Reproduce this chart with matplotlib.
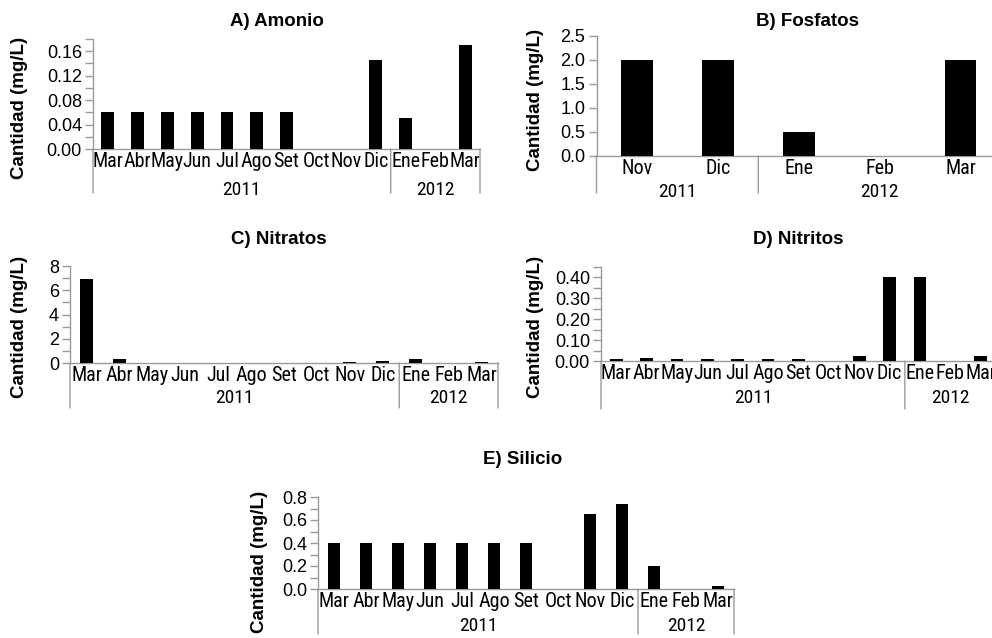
import numpy as np
import matplotlib
matplotlib.use("Agg")
import matplotlib.pyplot as plt
import matplotlib.transforms as mtransforms
from matplotlib import font_manager
from matplotlib.ticker import MultipleLocator, FormatStrFormatter

plt.rcParams["font.family"] = ["Liberation Sans", "DejaVu Sans"]
installed = {f.name for f in font_manager.fontManager.ttflist}
NARROW = [f for f in ["Liberation Sans Narrow", "Arial Narrow", "Roboto Condensed",
                      "PT Sans Narrow", "Archivo Narrow", "Open Sans Condensed"] if f in installed][:1]
NARROW += ["Liberation Sans", "DejaVu Sans"]
GREY = "#9a9a9a"

# data
months_full = ["Mar", "Abr", "May", "Jun", "Jul", "Ago", "Set", "Oct", "Nov", "Dic", "Ene", "Feb", "Mar"]
years_full = ["2011"] * 10 + ["2012"] * 3

amonio = [0.06, 0.06, 0.06, 0.06, 0.06, 0.06, 0.06, 0, 0, 0.145, 0.05, 0, 0.171]

fosfatos_months = ["Nov", "Dic", "Ene", "Feb", "Mar"]
fosfatos_years = ["2011", "2011", "2012", "2012", "2012"]
fosfatos = [2.0, 2.0, 0.5, 0, 2.0]

nitratos = [6.95, 0.35, 0, 0, 0, 0, 0, 0, 0.05, 0.14, 0.3, 0, 0.1]
nitritos = [0.011, 0.016, 0.011, 0.011, 0.011, 0.011, 0.011, 0, 0.024, 0.40, 0.40, 0, 0.024]
silicio = [0.4, 0.4, 0.4, 0.4, 0.4, 0.4, 0.4, 0, 0.655, 0.74, 0.2, 0, 0.025]

W, H = 992, 638
fig = plt.figure(figsize=(W / 100, H / 100), dpi=100)


def px_axes(left, top, right, bottom):
    return fig.add_axes([left / W, 1 - bottom / H, (right - left) / W, (bottom - top) / H])


def panel(box, months, years, values, ymax, major, minor, fmt, width,
          drop, year_off, title, title_xy, ylabel_xy):
    ax = px_axes(*box)
    n = len(values)
    x = np.arange(n)
    ax.bar(x, values, width=width, color="black", zorder=3)
    ax.set_xlim(-0.5, n - 0.5)
    ax.set_ylim(0, ymax)
    ax.yaxis.set_major_locator(MultipleLocator(major))
    if minor:
        ax.yaxis.set_minor_locator(MultipleLocator(minor))
    ax.yaxis.set_major_formatter(FormatStrFormatter(fmt))
    ax.tick_params(axis="y", which="both", length=6, width=1, color=GREY,
                   labelsize=13, pad=2)
    ax.set_xticks(x)
    ax.set_xticklabels(months, fontfamily=NARROW, fontsize=14.5)
    ax.tick_params(axis="x", length=0, pad=2)
    for s in ["top", "right"]:
        ax.spines[s].set_visible(False)
    for s in ["left", "bottom"]:
        ax.spines[s].set_color(GREY)
        ax.spines[s].set_linewidth(1)

    # group separators and year labels below the month names
    blend = mtransforms.blended_transform_factory(ax.transData, ax.transAxes)
    bounds = [0] + [i for i in range(1, n) if years[i] != years[i - 1]] + [n]
    for b in bounds:
        ax.annotate("", xy=(b - 0.5, 0), xycoords=blend, xytext=(0, -drop),
                    textcoords="offset pixels",
                    arrowprops=dict(arrowstyle="-", color=GREY, lw=1,
                                    shrinkA=0, shrinkB=0))
    for a, b in zip(bounds[:-1], bounds[1:]):
        ax.annotate(years[a], xy=((a + b - 1) / 2, 0), xycoords=blend,
                    xytext=(0, -year_off), textcoords="offset pixels",
                    ha="center", va="center", fontfamily=NARROW, fontsize=14)
    fig.text(title_xy[0] / W, 1 - title_xy[1] / H, title, ha="center", va="center",
             fontsize=13.5, fontweight="bold")
    fig.text(ylabel_xy[0] / W, 1 - ylabel_xy[1] / H, "Cantidad (mg/L)", rotation=90,
             ha="center", va="center", fontsize=13.5, fontweight="bold")
    return ax


panel((93, 39, 480, 149), months_full, years_full, amonio, 0.18, 0.04, 0.02, "%.2f", 0.43,
      44, 41, "A) Amonio", (277, 22), (20, 108))
panel((596.5, 36, 1001, 156), fosfatos_months, fosfatos_years, fosfatos, 2.5, 0.5, None, "%.1f", 0.39,
      37, 36, "B) Fosfatos", (808, 22), (535, 100))
panel((70, 266, 498, 363), months_full, years_full, nitratos, 8, 2, 1, "%d", 0.4,
      45, 35, "C) Nitratos", (279, 240), (20, 327))
panel((601, 267, 996, 361), months_full, years_full, nitritos, 0.45, 0.10, 0.05, "%.2f", 0.42,
      48, 37, "D) Nitritos", (798, 240), (535, 327))
panel((318, 497, 734, 589), months_full, years_full, silicio, 0.8, 0.2, 0.1, "%.1f", 0.39,
      45, 37, "E) Silicio", (523, 460), (259, 562))

fig.savefig("out.png", dpi=100)
